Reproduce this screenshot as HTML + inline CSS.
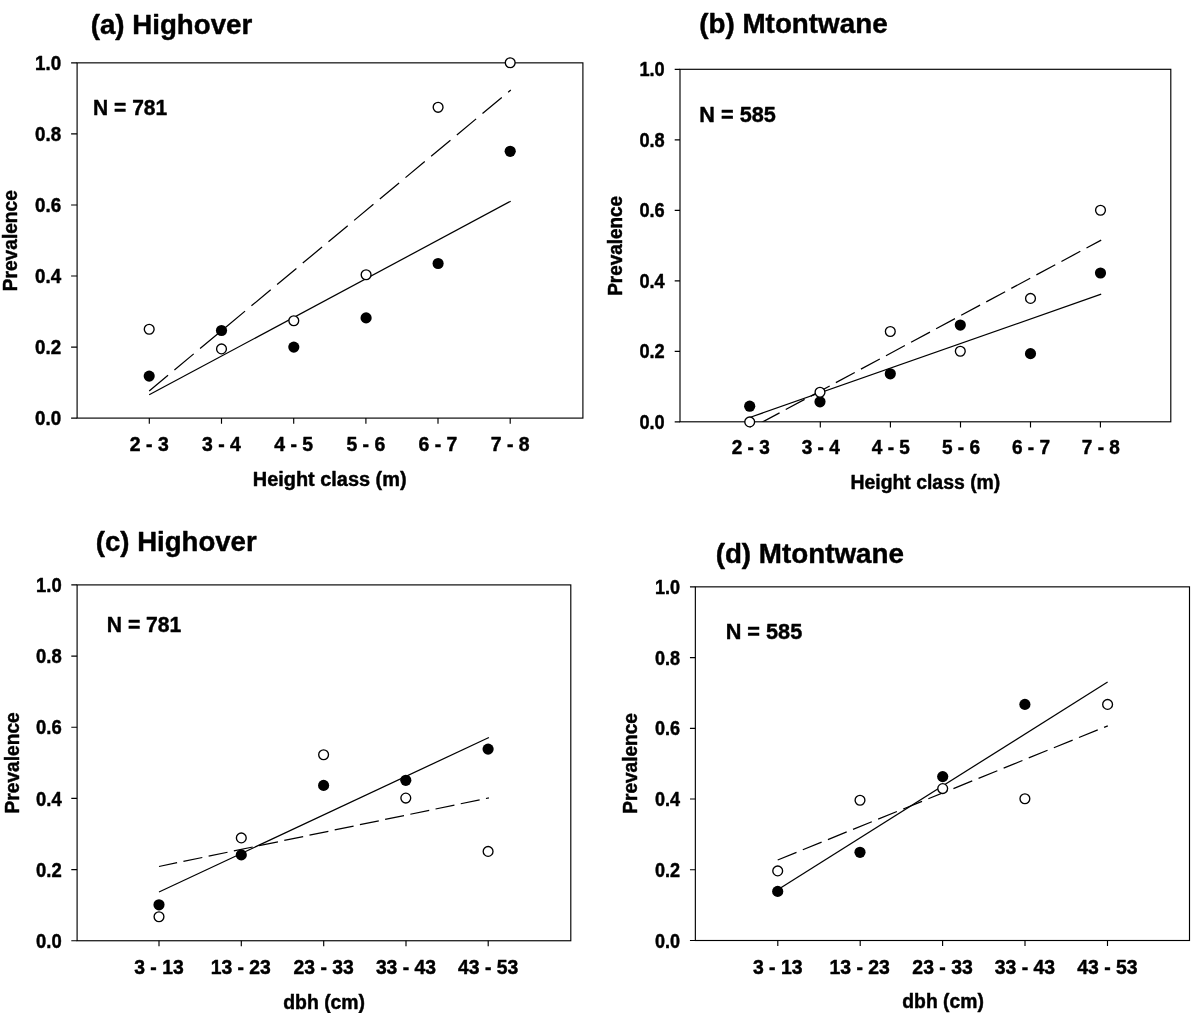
<!DOCTYPE html>
<html lang="en"><head><meta charset="utf-8"><title>Prevalence by height class and dbh</title>
<style>
html,body{margin:0;padding:0;background:#fff;}
body{width:1191px;height:1013px;overflow:hidden;}
svg{display:block;}
text{font-family:"Liberation Sans", sans-serif;font-weight:700;fill:#000;stroke:#000;stroke-width:0.45px;stroke-linejoin:round;}
</style></head><body>
<svg width="1191" height="1013" viewBox="0 0 1191 1013">
<rect width="1191" height="1013" fill="#fff"/>
<rect x="77.1" y="62.85" width="505.80" height="355.25" fill="none" stroke="#000" stroke-width="1.15"/>
<path d="M71.10 418.10H77.1 M71.10 347.05H77.1 M71.10 276.00H77.1 M71.10 204.95H77.1 M71.10 133.90H77.1 M71.10 62.85H77.1 M149.30 418.1V423.70 M221.50 418.1V423.70 M293.70 418.1V423.70 M365.90 418.1V423.70 M438.00 418.1V423.70 M510.20 418.1V423.70" stroke="#000" stroke-width="1.15" fill="none"/>
<clipPath id="ca"><rect x="77.1" y="52.85" width="505.80" height="365.25"/></clipPath>
<path d="M149.2 394.8L510.7 201.2" stroke="#000" stroke-width="1.25" fill="none" clip-path="url(#ca)"/>
<path d="M149.2 390.9L510.8 90.0" stroke="#000" stroke-width="1.25" fill="none" stroke-dasharray="25.1 8.3" stroke-dashoffset="0.6" clip-path="url(#ca)"/>
<circle cx="149.2" cy="329.2" r="4.9" fill="#fff" stroke="#000" stroke-width="1.35"/>
<circle cx="149.2" cy="376.1" r="5.58" fill="#000"/>
<circle cx="221.5" cy="330.5" r="5.58" fill="#000"/>
<circle cx="221.5" cy="348.9" r="4.9" fill="#fff" stroke="#000" stroke-width="1.35"/>
<circle cx="293.8" cy="320.7" r="4.9" fill="#fff" stroke="#000" stroke-width="1.35"/>
<circle cx="293.8" cy="347.1" r="5.58" fill="#000"/>
<circle cx="366.1" cy="274.8" r="4.9" fill="#fff" stroke="#000" stroke-width="1.35"/>
<circle cx="366.1" cy="317.9" r="5.58" fill="#000"/>
<circle cx="438.1" cy="107.3" r="4.9" fill="#fff" stroke="#000" stroke-width="1.35"/>
<circle cx="438.1" cy="263.5" r="5.58" fill="#000"/>
<circle cx="510.2" cy="62.7" r="4.9" fill="#fff" stroke="#000" stroke-width="1.35"/>
<circle cx="510.2" cy="151.3" r="5.58" fill="#000"/>
<rect x="680.0" y="69.3" width="490.80" height="352.50" fill="none" stroke="#000" stroke-width="1.15"/>
<path d="M674.70 421.80H680.0 M674.70 351.30H680.0 M674.70 280.80H680.0 M674.70 210.30H680.0 M674.70 139.80H680.0 M674.70 69.30H680.0 M750.30 421.8V427.40 M820.30 421.8V427.40 M890.40 421.8V427.40 M960.50 421.8V427.40 M1030.50 421.8V427.40 M1100.40 421.8V427.40" stroke="#000" stroke-width="1.15" fill="none"/>
<clipPath id="cb"><rect x="680.0" y="59.3" width="490.80" height="362.50"/></clipPath>
<path d="M749.7 417.5L1101.2 294.2" stroke="#000" stroke-width="1.25" fill="none" clip-path="url(#cb)"/>
<path d="M749.7 428.9L1101.2 240.1" stroke="#000" stroke-width="1.25" fill="none" stroke-dasharray="21.45 7.0" stroke-dashoffset="16.0" clip-path="url(#cb)"/>
<circle cx="749.7" cy="406.2" r="5.58" fill="#000"/>
<circle cx="749.7" cy="421.9" r="4.9" fill="#fff" stroke="#000" stroke-width="1.35"/>
<circle cx="820" cy="401.8" r="5.58" fill="#000"/>
<circle cx="820" cy="392.3" r="4.9" fill="#fff" stroke="#000" stroke-width="1.35"/>
<circle cx="890.3" cy="331.5" r="4.9" fill="#fff" stroke="#000" stroke-width="1.35"/>
<circle cx="890.3" cy="373.8" r="5.58" fill="#000"/>
<circle cx="960.3" cy="325.05" r="5.58" fill="#000"/>
<circle cx="960.3" cy="351.2" r="4.9" fill="#fff" stroke="#000" stroke-width="1.35"/>
<circle cx="1030.5" cy="298.4" r="4.9" fill="#fff" stroke="#000" stroke-width="1.35"/>
<circle cx="1030.5" cy="353.65" r="5.58" fill="#000"/>
<circle cx="1100.5" cy="210.2" r="4.9" fill="#fff" stroke="#000" stroke-width="1.35"/>
<circle cx="1100.5" cy="273.0" r="5.58" fill="#000"/>
<rect x="77.1" y="584.9" width="493.70" height="355.85" fill="none" stroke="#000" stroke-width="1.15"/>
<path d="M71.30 940.75H77.1 M71.30 869.58H77.1 M71.30 798.41H77.1 M71.30 727.24H77.1 M71.30 656.07H77.1 M71.30 584.90H77.1 M159.00 940.75V946.35 M241.30 940.75V946.35 M323.70 940.75V946.35 M406.00 940.75V946.35 M488.20 940.75V946.35" stroke="#000" stroke-width="1.15" fill="none"/>
<clipPath id="cc"><rect x="77.1" y="574.9" width="493.70" height="365.85"/></clipPath>
<path d="M159 892L488.9 737.5" stroke="#000" stroke-width="1.25" fill="none" clip-path="url(#cc)"/>
<path d="M159 866.5L488.9 797.9" stroke="#000" stroke-width="1.25" fill="none" stroke-dasharray="19.3 6.45" stroke-dashoffset="0.8" clip-path="url(#cc)"/>
<circle cx="159" cy="904.8" r="5.58" fill="#000"/>
<circle cx="159" cy="916.7" r="4.9" fill="#fff" stroke="#000" stroke-width="1.35"/>
<circle cx="241.3" cy="837.9" r="4.9" fill="#fff" stroke="#000" stroke-width="1.35"/>
<circle cx="241.3" cy="854.9" r="5.58" fill="#000"/>
<circle cx="323.6" cy="754.8" r="4.9" fill="#fff" stroke="#000" stroke-width="1.35"/>
<circle cx="323.6" cy="785.4" r="5.58" fill="#000"/>
<circle cx="405.8" cy="780.3" r="5.58" fill="#000"/>
<circle cx="405.8" cy="798.1" r="4.9" fill="#fff" stroke="#000" stroke-width="1.35"/>
<circle cx="488.1" cy="749.1" r="5.58" fill="#000"/>
<circle cx="488.1" cy="851.4" r="4.9" fill="#fff" stroke="#000" stroke-width="1.35"/>
<rect x="695.35" y="586.85" width="494.15" height="353.65" fill="none" stroke="#000" stroke-width="1.15"/>
<path d="M689.95 940.50H695.35 M689.95 869.77H695.35 M689.95 799.04H695.35 M689.95 728.31H695.35 M689.95 657.58H695.35 M689.95 586.85H695.35 M777.80 940.5V946.10 M860.20 940.5V946.10 M942.60 940.5V946.10 M1025.00 940.5V946.10 M1107.50 940.5V946.10" stroke="#000" stroke-width="1.15" fill="none"/>
<clipPath id="cd"><rect x="695.35" y="576.85" width="494.15" height="363.65"/></clipPath>
<path d="M777.7 889.8L1107.6 682.0" stroke="#000" stroke-width="1.25" fill="none" clip-path="url(#cd)"/>
<path d="M777.7 860.0L1107.8 725.8" stroke="#000" stroke-width="1.25" fill="none" stroke-dasharray="20.3 6.8" stroke-dashoffset="0" clip-path="url(#cd)"/>
<circle cx="777.7" cy="870.9" r="4.9" fill="#fff" stroke="#000" stroke-width="1.35"/>
<circle cx="777.7" cy="891.4" r="5.58" fill="#000"/>
<circle cx="860" cy="800.3" r="4.9" fill="#fff" stroke="#000" stroke-width="1.35"/>
<circle cx="860" cy="852.3" r="5.58" fill="#000"/>
<circle cx="942.7" cy="776.6" r="5.58" fill="#000"/>
<circle cx="942.7" cy="788.6" r="4.9" fill="#fff" stroke="#000" stroke-width="1.35"/>
<circle cx="1024.9" cy="704.4" r="5.58" fill="#000"/>
<circle cx="1024.9" cy="798.7" r="4.9" fill="#fff" stroke="#000" stroke-width="1.35"/>
<circle cx="1107.6" cy="704.4" r="4.9" fill="#fff" stroke="#000" stroke-width="1.35"/>
<text transform="translate(35.08,425.25) scale(0.9583,1)" font-size="19.6">0.0</text>
<text transform="translate(35.08,354.20) scale(0.9583,1)" font-size="19.6">0.2</text>
<text transform="translate(35.08,283.15) scale(0.9583,1)" font-size="19.6">0.4</text>
<text transform="translate(35.08,212.10) scale(0.9583,1)" font-size="19.6">0.6</text>
<text transform="translate(35.08,141.05) scale(0.9583,1)" font-size="19.6">0.8</text>
<text transform="translate(35.08,70.00) scale(0.9583,1)" font-size="19.6">1.0</text>
<text transform="translate(129.83,451.30) scale(0.9909,1)" font-size="19.6">2 - 3</text>
<text transform="translate(202.03,451.30) scale(0.9909,1)" font-size="19.6">3 - 4</text>
<text transform="translate(274.22,451.30) scale(0.9909,1)" font-size="19.6">4 - 5</text>
<text transform="translate(346.42,451.30) scale(0.9909,1)" font-size="19.6">5 - 6</text>
<text transform="translate(418.52,451.30) scale(0.9909,1)" font-size="19.6">6 - 7</text>
<text transform="translate(490.72,451.30) scale(0.9909,1)" font-size="19.6">7 - 8</text>
<text transform="translate(252.81,485.60) scale(1.0162,1)" font-size="19.6">Height class (m)</text>
<text transform="translate(17.30,291.23) rotate(-90) scale(0.9772,1)" font-size="19.6">Prevalence</text>
<text transform="translate(90.75,33.65) scale(0.9785,1)" font-size="28.3">(a) Highover</text>
<text transform="translate(93.10,114.70) scale(0.9204,1)" font-size="22.8">N = 781</text>
<text transform="translate(639.38,428.95) scale(0.9290,1)" font-size="19.6">0.0</text>
<text transform="translate(639.38,358.45) scale(0.9290,1)" font-size="19.6">0.2</text>
<text transform="translate(639.38,287.95) scale(0.9290,1)" font-size="19.6">0.4</text>
<text transform="translate(639.38,217.45) scale(0.9290,1)" font-size="19.6">0.6</text>
<text transform="translate(639.38,146.95) scale(0.9290,1)" font-size="19.6">0.8</text>
<text transform="translate(639.38,76.45) scale(0.9290,1)" font-size="19.6">1.0</text>
<text transform="translate(731.72,454.30) scale(0.9705,1)" font-size="19.6">2 - 3</text>
<text transform="translate(801.72,454.30) scale(0.9705,1)" font-size="19.6">3 - 4</text>
<text transform="translate(871.82,454.30) scale(0.9705,1)" font-size="19.6">4 - 5</text>
<text transform="translate(941.92,454.30) scale(0.9705,1)" font-size="19.6">5 - 6</text>
<text transform="translate(1011.92,454.30) scale(0.9705,1)" font-size="19.6">6 - 7</text>
<text transform="translate(1081.83,454.30) scale(0.9705,1)" font-size="19.6">7 - 8</text>
<text transform="translate(850.43,488.60) scale(0.9902,1)" font-size="19.6">Height class (m)</text>
<text transform="translate(622.20,295.74) rotate(-90) scale(0.9655,1)" font-size="19.6">Prevalence</text>
<text transform="translate(699.24,32.70) scale(0.9828,1)" font-size="28.3">(b) Mtontwane</text>
<text transform="translate(699.37,122.40) scale(0.9505,1)" font-size="22.8">N = 585</text>
<text transform="translate(36.12,947.90) scale(0.9418,1)" font-size="19.6">0.0</text>
<text transform="translate(36.12,876.73) scale(0.9418,1)" font-size="19.6">0.2</text>
<text transform="translate(36.12,805.56) scale(0.9418,1)" font-size="19.6">0.4</text>
<text transform="translate(36.12,734.39) scale(0.9418,1)" font-size="19.6">0.6</text>
<text transform="translate(36.12,663.22) scale(0.9418,1)" font-size="19.6">0.8</text>
<text transform="translate(36.12,592.05) scale(0.9418,1)" font-size="19.6">1.0</text>
<text transform="translate(134.25,974.20) scale(0.9860,1)" font-size="19.6">3 - 13</text>
<text transform="translate(210.68,974.20) scale(0.9860,1)" font-size="19.6">13 - 23</text>
<text transform="translate(293.57,974.20) scale(0.9860,1)" font-size="19.6">23 - 33</text>
<text transform="translate(375.88,974.20) scale(0.9860,1)" font-size="19.6">33 - 43</text>
<text transform="translate(458.07,974.20) scale(0.9860,1)" font-size="19.6">43 - 53</text>
<text transform="translate(283.23,1008.60) scale(0.9897,1)" font-size="19.6">dbh (cm)</text>
<text transform="translate(18.70,813.53) rotate(-90) scale(0.9791,1)" font-size="19.6">Prevalence</text>
<text transform="translate(95.75,550.50) scale(0.9755,1)" font-size="28.3">(c) Highover</text>
<text transform="translate(106.80,632.40) scale(0.9267,1)" font-size="22.8">N = 781</text>
<text transform="translate(655.02,947.65) scale(0.9217,1)" font-size="19.6">0.0</text>
<text transform="translate(655.02,876.92) scale(0.9217,1)" font-size="19.6">0.2</text>
<text transform="translate(655.02,806.19) scale(0.9217,1)" font-size="19.6">0.4</text>
<text transform="translate(655.02,735.46) scale(0.9217,1)" font-size="19.6">0.6</text>
<text transform="translate(655.02,664.73) scale(0.9217,1)" font-size="19.6">0.8</text>
<text transform="translate(655.02,594.00) scale(0.9217,1)" font-size="19.6">1.0</text>
<text transform="translate(752.92,973.80) scale(0.9909,1)" font-size="19.6">3 - 13</text>
<text transform="translate(829.43,973.80) scale(0.9909,1)" font-size="19.6">13 - 23</text>
<text transform="translate(912.33,973.80) scale(0.9909,1)" font-size="19.6">23 - 33</text>
<text transform="translate(994.73,973.80) scale(0.9909,1)" font-size="19.6">33 - 43</text>
<text transform="translate(1077.22,973.80) scale(0.9909,1)" font-size="19.6">43 - 53</text>
<text transform="translate(902.33,1008.30) scale(0.9849,1)" font-size="19.6">dbh (cm)</text>
<text transform="translate(637.20,813.72) rotate(-90) scale(0.9723,1)" font-size="19.6">Prevalence</text>
<text transform="translate(715.64,563.40) scale(0.9823,1)" font-size="28.3">(d) Mtontwane</text>
<text transform="translate(725.67,639.20) scale(0.9517,1)" font-size="22.8">N = 585</text>
</svg>
</body></html>
